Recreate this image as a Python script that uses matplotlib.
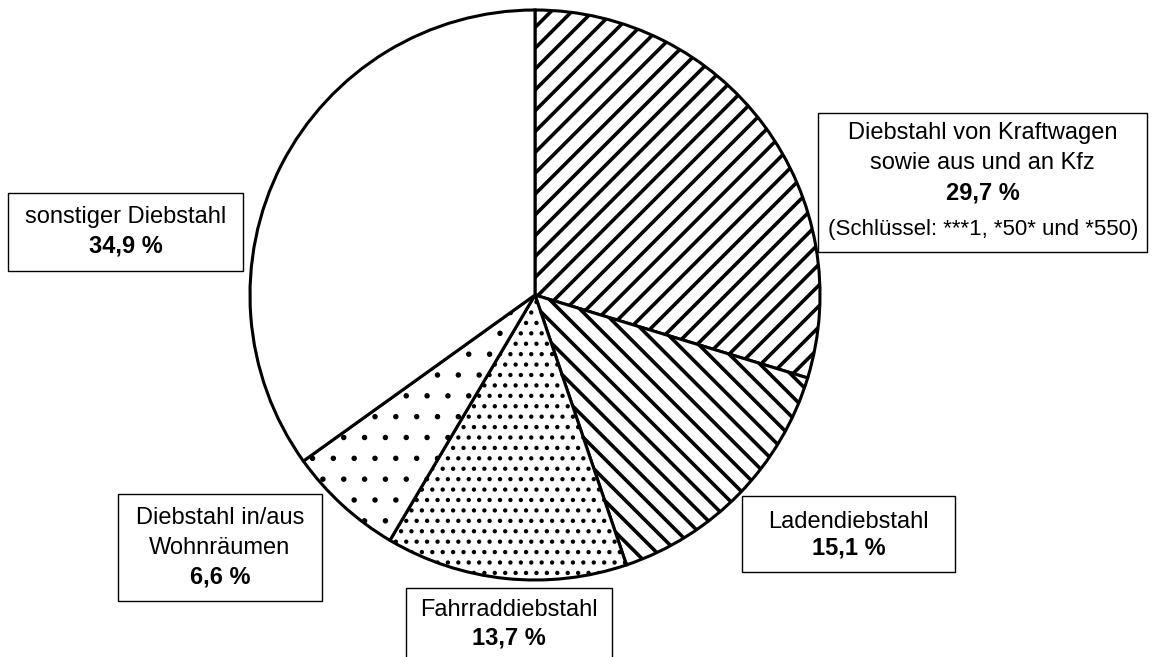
import matplotlib.pyplot as plt
from matplotlib.patches import Rectangle

DPI = 125
S = 100 / DPI  # Punktgrößen so umrechnen, dass sie wie bei 100 dpi aussehen

plt.rcParams['font.family'] = ['Liberation Sans', 'DejaVu Sans']
plt.rcParams['hatch.linewidth'] = 2.6 * S

W, H = 1162, 657

# Anteile der Diebstahlsdelikte (im Uhrzeigersinn ab 12 Uhr)
names = [["Diebstahl von Kraftwagen", "sowie aus und an Kfz"], ["Ladendiebstahl"],
         ["Fahrraddiebstahl"], ["Diebstahl in/aus", "Wohnräumen"], ["sonstiger Diebstahl"]]
shares = [29.7, 15.1, 13.7, 6.6, 34.9]
hatches = ["//", "\\\\", "..", ".", ""]
hatch_lw = [2.6, 2.6, 1.6, 0.9, 1.0]

# Beschriftungskästen: (links, oben, rechts, unten) in Pixeln
boxes = [(818, 113, 1147, 252), (742, 496, 955, 572), (406, 588, 612, 680),
         (118, 494, 322, 601), (8, 193, 243, 271)]
line_y = [[133, 163, 193], [522, 548], [610, 638], [518, 548, 577], [217, 246]]

fig = plt.figure(figsize=(W / DPI, H / DPI), dpi=DPI)
ax = fig.add_axes([0, 0, 1, 1])


def fy(y):
    return H - y


wedges, _ = ax.pie(shares, center=(535, fy(295)), radius=285, startangle=90,
                   counterclock=False, colors=["white"] * 5,
                   wedgeprops=dict(edgecolor="black", linewidth=2.2 * S))
for w, h, lw in zip(wedges, hatches, hatch_lw):
    w.set_hatch(h)
    if hasattr(w, "set_hatch_linewidth"):
        w.set_hatch_linewidth(lw * S)
ax.set_xlim(0, W)
ax.set_ylim(0, H)
ax.set_aspect("auto")
ax.axis("off")

for name, val, (x0, y0, x1, y1), ys in zip(names, shares, boxes, line_y):
    ax.add_patch(Rectangle((x0, fy(y1)), x1 - x0, y1 - y0, facecolor="white",
                           edgecolor="black", linewidth=1.0 * S))
    cx = (x0 + x1) / 2
    for line, y in zip(name, ys):
        ax.text(cx, fy(y), line, ha="center", va="center", fontsize=17 * S)
    ax.text(cx, fy(ys[-1]), f"{val:.1f} %".replace(".", ","), ha="center",
            va="center", fontsize=17 * S, fontweight="bold")

ax.text(983, fy(229), "(Schlüssel: ***1, *50* und *550)", ha="center",
        va="center", fontsize=16 * S)

fig.savefig("out.png", dpi=DPI)
